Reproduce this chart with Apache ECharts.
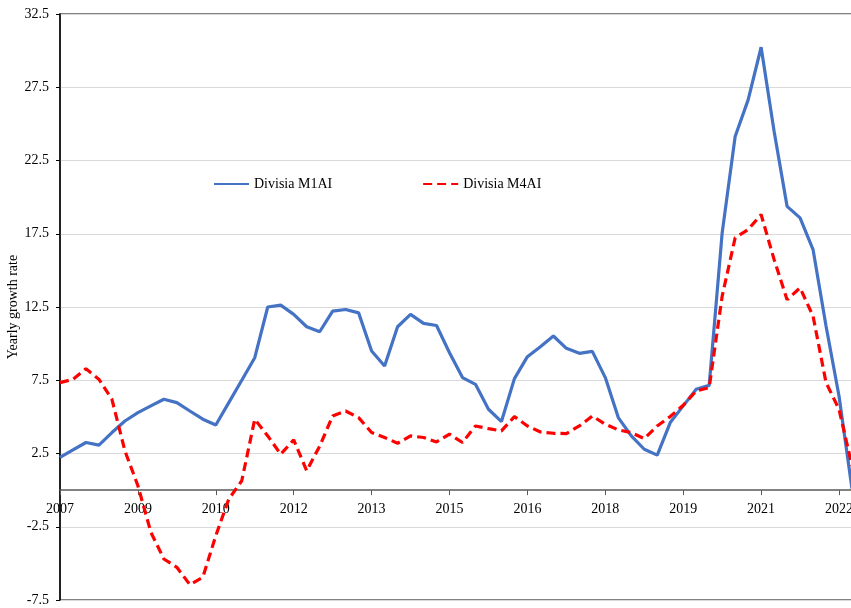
<!DOCTYPE html>
<html><head><meta charset="utf-8">
<script src="https://cdn.jsdelivr.net/npm/echarts@6/dist/echarts.min.js"></script>
<style>html,body{margin:0;padding:0;background:#fff}#c{width:851px;height:608px}</style>
</head><body><div id="c"></div>
<script>
const quarters = [
 '2007Q1','2007Q2','2007Q3','2007Q4','2008Q1','2008Q2','2008Q3','2008Q4',
 '2009Q1','2009Q2','2009Q3','2009Q4','2010Q1','2010Q2','2010Q3','2010Q4',
 '2011Q1','2011Q2','2011Q3','2011Q4','2012Q1','2012Q2','2012Q3','2012Q4',
 '2013Q1','2013Q2','2013Q3','2013Q4','2014Q1','2014Q2','2014Q3','2014Q4',
 '2015Q1','2015Q2','2015Q3','2015Q4','2016Q1','2016Q2','2016Q3','2016Q4',
 '2017Q1','2017Q2','2017Q3','2017Q4','2018Q1','2018Q2','2018Q3','2018Q4',
 '2019Q1','2019Q2','2019Q3','2019Q4','2020Q1','2020Q2','2020Q3','2020Q4',
 '2021Q1','2021Q2','2021Q3','2021Q4','2022Q1','2022Q2'
];
const xTickLabels = ['2007','2009','2010','2012','2013','2015','2016','2018','2019','2021','2022'];
const m1ai = [2.23,2.75,3.25,3.07,3.93,4.72,5.29,5.75,6.2,5.97,5.4,
  4.84,4.45,5.97,7.5,9.04,12.5,12.63,12.0,11.15,10.81,
  12.22,12.33,12.1,9.5,8.47,11.15,12.0,11.38,11.24,9.38,
  7.68,7.22,5.52,4.68,7.61,9.11,9.79,10.52,9.68,9.34,9.47,
  7.68,4.95,3.7,2.79,2.39,4.61,5.75,6.88,7.15,
  17.56,24.14,26.64,30.23,24.5,19.37,18.58,16.42,11.2,6.43,0.1];
const m4ai = [7.34,7.56,8.29,7.56,6.2,2.68,0.3,-2.88,-4.7,-5.27,-6.45,
  -5.95,-3.11,-0.61,0.64,4.84,3.7,2.45,3.43,1.32,3.0,
  5.06,5.4,4.95,3.93,3.59,3.2,3.7,3.59,3.29,3.82,
  3.25,4.38,4.2,4.04,5.02,4.38,3.97,3.88,3.86,4.38,5.06,
  4.5,4.11,3.93,3.52,4.38,5.02,5.79,6.77,7.0,
  13.24,17.22,17.79,18.81,15.74,13.0,13.81,11.88,7.34,5.52,1.66];

const yMin = -7.5, yMax = 32.5;
const gridTop = 14, gridBottom = 8, H = 608;
const plotH = H - gridTop - gridBottom;
// distance from the grid bottom up to the zero line, so the x axis sits on zero
const zeroOffset = -(plotH * (0 - yMin) / (yMax - yMin));

const chart = echarts.init(document.getElementById('c'), null, {renderer:'canvas'});
const font = 'Liberation Serif';
chart.setOption({
  animation:false,
  backgroundColor:'#fff',
  textStyle:{fontFamily:font},
  grid:{left:60, right:-1, top:gridTop, bottom:gridBottom, containLabel:false, outerBoundsMode:'none',
    show:true, borderColor:'#595959', borderWidth:1.5, backgroundColor:'transparent'},
  legend:{left:208, top:172, itemWidth:35, itemHeight:14, itemGap:90,
    itemStyle:{opacity:0},
    textStyle:{fontFamily:font, fontSize:14, color:'#000'},
    data:['Divisia M1AI','Divisia M4AI']},
  xAxis:{type:'category', data:quarters, boundaryGap:false, position:'bottom', offset:zeroOffset,
    axisLine:{onZero:false, lineStyle:{color:'#595959', width:1.5}},
    axisTick:{show:true, interval:5, length:5, lineStyle:{color:'#595959'}},
    axisLabel:{interval:5, margin:12, fontFamily:font, fontSize:14, color:'#000',
      formatter:(v,i)=> (i % 6 === 0 ? (xTickLabels[i/6] || '') : '')},
    splitLine:{show:false}},
  yAxis:{type:'value', min:yMin, max:yMax, interval:5,
    name:'Yearly growth rate', nameLocation:'middle', nameGap:40, nameMoveOverlap:false,
    nameTextStyle:{fontFamily:font, fontSize:14, color:'#000'},
    axisLine:{show:true, lineStyle:{color:'#000', width:1.5}},
    axisTick:{show:true, length:4, lineStyle:{color:'#000'}},
    axisLabel:{margin:11, fontFamily:font, fontSize:14, color:'#000', formatter:v=>v.toFixed(1)},
    splitLine:{lineStyle:{color:'#d9d9d9', width:1}}},
  series:[
    {name:'Divisia M1AI', type:'line', data:m1ai, symbol:'none', color:'#4472C4',
     lineStyle:{color:'#4472C4', width:3.2}},
    {name:'Divisia M4AI', type:'line', data:m4ai, symbol:'none', color:'#FF0000',
     lineStyle:{color:'#FF0000', width:3.2, type:[9,5]}}
  ]
});
</script></body></html>
